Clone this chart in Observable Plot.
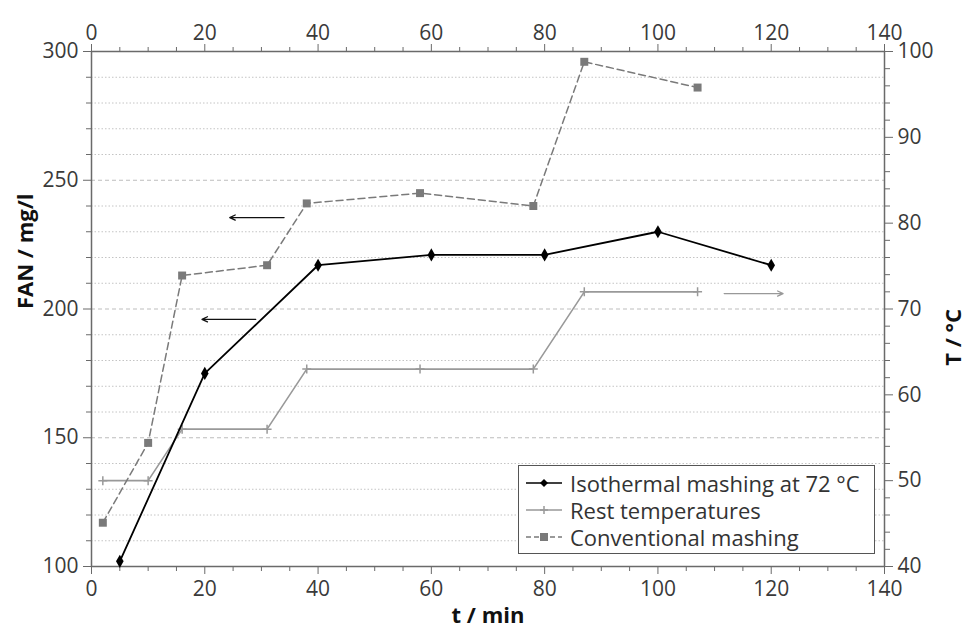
<!DOCTYPE html>
<html>
<head>
<meta charset="utf-8">
<script src="https://cdn.jsdelivr.net/npm/d3@7"></script>
<script src="https://cdn.jsdelivr.net/npm/@observablehq/plot@0.6"></script>
<style>
  body { margin: 0; background: white; }
  #wrap { position: relative; width: 973px; height: 632px; }
  #legend {
    position: absolute; left: 518px; top: 465px; width: 357px; height: 89px;
    border: 1px solid #555; background: white; box-sizing: border-box;
    font-family: "Open Sans", sans-serif; font-size: 22px; color: #333;
    padding-top: 3px;
  }
  .row { display: flex; align-items: center; height: 27px; white-space: nowrap; }
  .row svg { margin-left: 7px; margin-right: 8px; flex: none; }
</style>
</head>
<body>
<div id="wrap"></div>
<script>
// ---- data ----
const isoTime = [5, 20, 40, 60, 80, 100, 120];
const isoFAN  = [102, 175, 217, 221, 221, 230, 217];

const restTime = [2, 10, 16, 31, 38, 58, 78, 87, 107];
const restTemp = [50, 50, 56, 56, 63, 63, 63, 72, 72];

const convTime = [2, 10, 16, 31, 38, 58, 78, 87, 107];
const convFAN  = [117, 148, 213, 217, 241, 245, 240, 296, 286];

// arrows pointing to the axis each curve belongs to
const arrowFrom = [34, 29, 111.7];
const arrowTo   = [24.4, 19.5, 122.1];
const arrowLevelFAN = [235.5, 196, null];
const arrowLevelTemp = [null, null, 71.8];
const arrowColor = ["#111", "#111", "#999"];

const xTicks = [0, 20, 40, 60, 80, 100, 120, 140];
const fanTicks = [100, 150, 200, 250, 300];
const tempTicks = [40, 50, 60, 70, 80, 90, 100];

const legendLabels = ["Isothermal mashing at 72 °C", "Rest temperatures", "Conventional mashing"];

// ---- helpers: map temperature onto the FAN scale (40–100 °C ↔ 100–300 mg/l)
const toFan = t => 100 + (t - 40) * 200 / 60;
const fromFan = f => 40 + (f - 100) * 60 / 200;

const iso = isoTime.map((t, i) => ({t, v: isoFAN[i]}));
const rest = restTime.map((t, i) => ({t, v: toFan(restTemp[i])}));
const conv = convTime.map((t, i) => ({t, v: convFAN[i]}));
const arrows = arrowFrom.map((x1, i) => ({
  x1, x2: arrowTo[i],
  y: arrowLevelFAN[i] != null ? arrowLevelFAN[i] : toFan(arrowLevelTemp[i]),
  c: arrowColor[i]
}));

const minorX = d3.range(0, 141, 5).filter(d => !xTicks.includes(d));
const minorFan = d3.range(100, 301, 10).filter(d => !fanTicks.includes(d));
const minorTemp = d3.range(40, 101, 2).filter(d => !tempTicks.includes(d)).map(toFan);
const gridDotted = minorFan;
const gridDashed = [150, 200, 250];

const axisStroke = "#6a6a6a";

const chart = Plot.plot({
  width: 973,
  height: 632,
  marginLeft: 91,
  marginRight: 89,
  marginTop: 51,
  marginBottom: 66,
  style: {fontFamily: "Open Sans, sans-serif", fontSize: "21px", color: "#3a3a3a", background: "white"},
  x: {domain: [0, 140]},
  y: {domain: [100, 300]},
  marks: [
    Plot.gridY(gridDotted, {stroke: "#c4c4c4", strokeOpacity: 1, strokeDasharray: "1.5,2", strokeWidth: 1}),
    Plot.gridY(gridDashed, {stroke: "#bdbdbd", strokeOpacity: 1, strokeDasharray: "4,3", strokeWidth: 1}),
    Plot.frame({stroke: axisStroke, strokeWidth: 1.5}),
    // bottom & top x axes
    Plot.axisX({anchor: "bottom", ticks: xTicks, tickSize: 8, tickPadding: 7, label: null, stroke: axisStroke}),
    Plot.axisX({anchor: "bottom", ticks: minorX, tickSize: 5, tickFormat: () => "", label: null, stroke: axisStroke}),
    Plot.axisX({anchor: "top", ticks: xTicks, tickSize: 8, tickPadding: 4, label: null, stroke: axisStroke}),
    Plot.axisX({anchor: "top", ticks: minorX, tickSize: 5, tickFormat: () => "", label: null, stroke: axisStroke}),
    // left FAN axis
    Plot.axisY({anchor: "left", ticks: fanTicks, tickSize: 8, tickPadding: 5, label: null, stroke: axisStroke}),
    Plot.axisY({anchor: "left", ticks: minorFan, tickSize: 5, tickFormat: () => "", label: null, stroke: axisStroke}),
    // right temperature axis
    Plot.axisY({anchor: "right", ticks: tempTicks.map(toFan), tickFormat: d => Math.round(fromFan(d)), tickSize: 8, tickPadding: 5, label: null, stroke: axisStroke}),
    Plot.axisY({anchor: "right", ticks: minorTemp, tickSize: 5, tickFormat: () => "", label: null, stroke: axisStroke}),
    // axis titles
    Plot.text(["FAN / mg/l"], {frameAnchor: "left", dx: -66, rotate: -90, fontWeight: "bold", fontSize: 22, fill: "#111"}),
    Plot.text(["T / °C"], {frameAnchor: "right", dx: 69, rotate: -90, fontWeight: "bold", fontSize: 22, fill: "#111"}),
    Plot.text(["t / min"], {frameAnchor: "bottom", dy: 56, fontWeight: "bold", fontSize: 22, fill: "#111"}),
    // series
    Plot.line(rest, {x: "t", y: "v", stroke: "#999", strokeWidth: 1.6}),
    Plot.dot(rest, {x: "t", y: "v", symbol: "plus", r: 3, stroke: "#999", strokeWidth: 1.5}),
    Plot.line(conv, {x: "t", y: "v", stroke: "#7a7a7a", strokeWidth: 1.5, strokeDasharray: "7,4"}),
    Plot.dot(conv, {x: "t", y: "v", symbol: "square", r: 4.5, fill: "#7a7a7a", stroke: "none"}),
    Plot.line(iso, {x: "t", y: "v", stroke: "#000", strokeWidth: 1.8}),
    Plot.dot(iso, {x: "t", y: "v", symbol: "diamond", r: 4, fill: "#000", stroke: "none"}),
    // arrows
    Plot.arrow(arrows, {x1: "x1", x2: "x2", y1: "y", y2: "y", stroke: "c", strokeWidth: 1.3, headLength: 7, headAngle: 50})
  ]
});

const wrap = document.getElementById("wrap");
wrap.appendChild(chart);

// legend
const legend = document.createElement("div");
legend.id = "legend";
const styles = [
  {stroke: "#000", dash: null, sym: "diamond"},
  {stroke: "#999", dash: null, sym: "plus"},
  {stroke: "#7a7a7a", dash: "5,3", sym: "square"}
];
legendLabels.forEach((lab, i) => {
  const s = styles[i];
  const row = document.createElement("div");
  row.className = "row";
  let symbol = "";
  if (s.sym === "diamond") symbol = `<path d="M18,9 L22,13 L18,17 L14,13 Z" fill="#000"/>`;
  if (s.sym === "plus") symbol = `<path d="M14,13 H22 M18,9 V17" stroke="#999" stroke-width="1.5"/>`;
  if (s.sym === "square") symbol = `<rect x="14" y="9" width="8" height="8" fill="#7a7a7a"/>`;
  row.innerHTML = `<svg width="36" height="26"><line x1="0" x2="36" y1="13" y2="13" stroke="${s.stroke}" stroke-width="1.7" ${s.dash ? `stroke-dasharray="${s.dash}"` : ""}/>${symbol}</svg><span>${lab}</span>`;
  legend.appendChild(row);
});
wrap.appendChild(legend);
</script>
</body>
</html>
